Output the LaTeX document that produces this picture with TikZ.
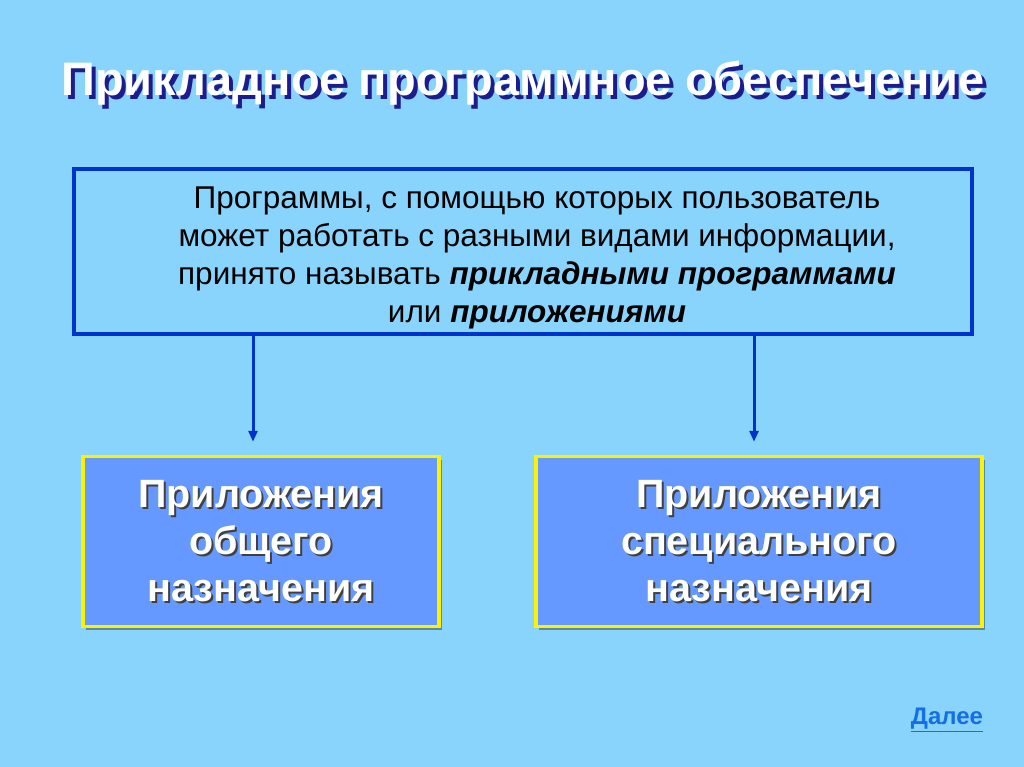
\documentclass[tikz,border=0pt]{standalone}
\usepackage{fontspec}
\setmainfont{Liberation Sans}
\usetikzlibrary{arrows.meta,shadows}
\definecolor{skybg}{RGB}{136,212,252}
\definecolor{darkblue}{RGB}{0,51,204}
\definecolor{navyshadow}{RGB}{28,28,140}
\definecolor{appfill}{RGB}{102,153,255}
\definecolor{linkblue}{RGB}{20,110,230}
\tikzset{
    appbox/.style={draw=yellow, line width=3.5pt, fill=appfill, minimum height=170pt,
        drop shadow={shadow xshift=3pt, shadow yshift=-3pt, fill=black, opacity=0.35}},
    apptext/.style={align=center, font=\bfseries\fontsize{39.5}{47}\selectfont},
    arrowline/.style={darkblue, line width=3pt, -{Triangle[length=11pt,width=9pt]}, shorten >=13pt}
}
\begin{document}
\begin{tikzpicture}[x=1pt,y=-1pt]
    \fill[skybg] (0,0) rectangle (1024,767);
    % title with shadow
    \node[text=navyshadow, font=\bfseries\fontsize{47}{50}\selectfont] (titleshadow) at (527,87) {Прикладное программное обеспечение};
    \node[text=white, font=\bfseries\fontsize{47}{50}\selectfont] (title) at (523,83) {Прикладное программное обеспечение};
    % definition box
    \node[draw=darkblue, line width=4pt, minimum width=898pt, minimum height=165pt] (def) at (523,251.5) {};
    \node[align=center, font=\fontsize{31.5}{38}\selectfont] (deftext) at (537,258)
        {Программы, с помощью которых пользователь\\
         может работать с разными видами информации,\\
         принято называть \textbf{\textit{прикладными программами}}\\
         или \textbf{\textit{приложениями}}};
    % the two kinds of applications
    \node[appbox, minimum width=356pt] (general) at (261,541.5) {};
    \node[appbox, minimum width=446pt] (special) at (759,541.5) {};
    \foreach \n/\t in {general/{Приложения\\общего\\назначения}, special/{Приложения\\специального\\назначения}} {
        \node[apptext, text=black!75] (\n shadow) at ([xshift=2pt,yshift=-2pt]\n) {\t};
        \node[apptext, text=white] (\n text) at (\n) {\t};
    }
    \draw[arrowline] ([xshift=-8pt]def.south -| general.north) -- ([xshift=-8pt]general.north);
    \draw[arrowline] ([xshift=-5pt]def.south -| special.north) -- ([xshift=-5pt]special.north);
    % link
    \node[text=linkblue, font=\bfseries\fontsize{24}{26}\selectfont] (next) at (947,720) {\underline{Далее}};
\end{tikzpicture}
\end{document}
